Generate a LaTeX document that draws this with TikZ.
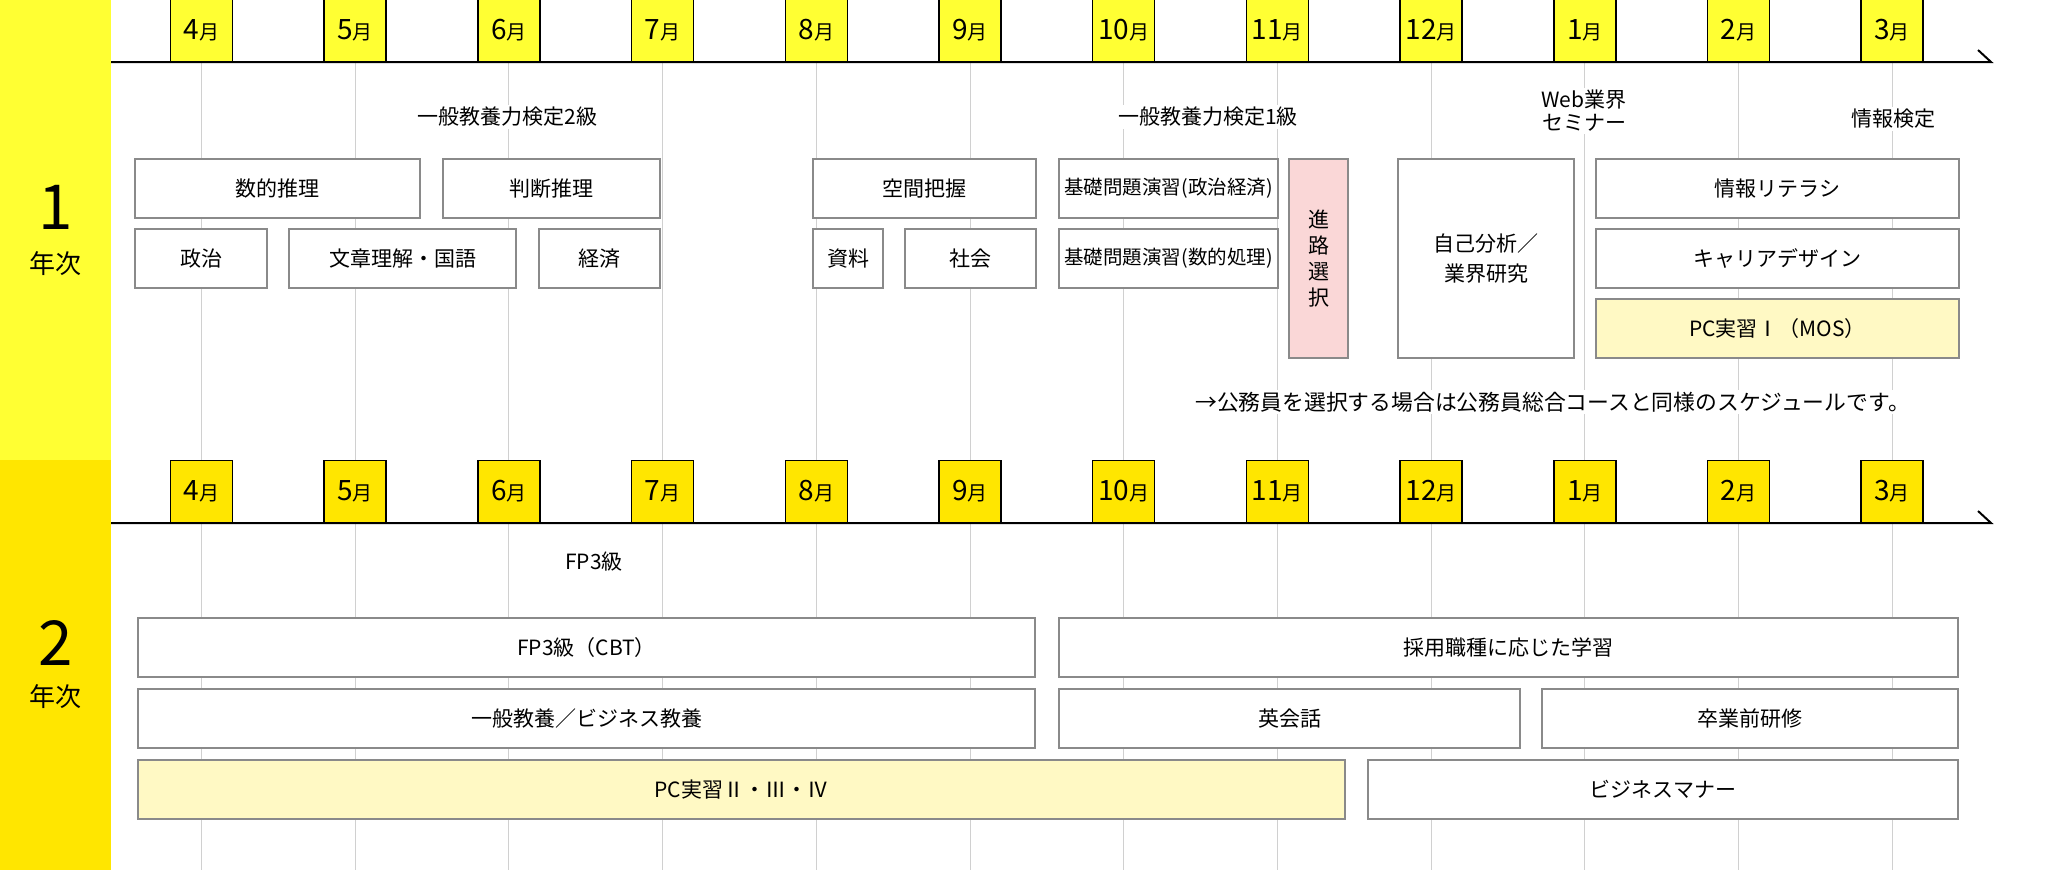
\documentclass[tikz,border=0pt]{standalone}
\usepackage{fontspec}
\setmainfont{Noto Sans CJK JP}
\usepackage{tikz}
\usetikzlibrary{positioning}
\definecolor{bandA}{RGB}{255,255,51}
\definecolor{bandB}{RGB}{255,230,0}
\definecolor{boxline}{RGB}{138,138,138}
\definecolor{pcfill}{RGB}{255,249,196}
\definecolor{pinkfill}{RGB}{250,215,215}
\definecolor{gridgray}{RGB}{208,208,208}
\tikzset{month/.style={draw=black, line width=1.5pt, minimum width=62pt,
                       minimum height=62pt, inner sep=0pt, anchor=south},
         course/.style={draw=boxline, line width=1.8pt, fill=white, inner sep=0pt,
                        align=center, font=\fontsize{21}{25}\selectfont},
         boxsize/.style 2 args={minimum width=#1pt, minimum height=#2pt},
         note/.style={fill=white, inner sep=2pt, align=center,
                      font=\fontsize{21}{25}\selectfont},
         gridline/.style={draw=gridgray, line width=1pt},
         axis/.style={draw=black, line width=2pt}}
\newcommand{\tsuki}[1]{{\fontsize{28}{28}\selectfont #1}{\fontsize{20}{20}\selectfont 月}}

\begin{document}
\begin{tikzpicture}[x=1pt, y=-1pt]
                \useasboundingbox (0,0) rectangle (2072,870);
                \coordinate (bottom) at (0,870);

                % year bands
                \fill[bandA] (0,0) rectangle (111,460);
                \fill[bandB] (0,460) rectangle (111,870);
                \node[font=\fontsize{62}{62}\selectfont] (yr1num) at (55.5,207) {1};
                \node[font=\fontsize{26}{26}\selectfont] (yr1txt) at (55.5,264) {年次};
                \node[font=\fontsize{62}{62}\selectfont] (yr2num) at (55.5,643) {2};
                \node[font=\fontsize{26}{26}\selectfont] (yr2txt) at (55.5,697) {年次};

                % months, first year
                \foreach \m [count=\i] in {4,5,6,7,8,9,10,11,12,1,2,3}
                    \node[month, fill=bandA] (ma\i) at ({201.5+153.7*(\i-1)},62) {\tsuki{\m}};
                \foreach \i in {1,...,12}
                    \draw[gridline] (ma\i.south) -- (ma\i.south |- bottom);

                \coordinate (axa1) at (111,62);
                \coordinate (axa2) at (1991,62);
                \coordinate (axa3) at (1978,50);
                \draw[axis] (axa1) -- (axa2) -- (axa3);

                % months, second year
                \foreach \m [count=\i] in {4,5,6,7,8,9,10,11,12,1,2,3}
                    \node[month, fill=bandB] (mb\i) at ({201.5+153.7*(\i-1)},523) {\tsuki{\m}};
                \coordinate (axb1) at (111,523);
                \coordinate (axb2) at (1991,523);
                \coordinate (axb3) at (1978,511);
                \draw[axis] (axb1) -- (axb2) -- (axb3);

                % first year
                \node[note] (kentei2) at (507.5,117) {一般教養力検定2級};
                \node[note] (kentei1) at (1208,117) {一般教養力検定1級};
                \node[note, font=\fontsize{21}{23}\selectfont] (webseminar) at (1584,111) {Web業界\\セミナー};
                \node[note] (johokentei) at (1893,119) {情報検定};

                \node[course, boxsize={285}{59}] (suteki) at (277.5,188.5) {数的推理};
                \node[course, boxsize={217}{59}] (handan) at (551.5,188.5) {判断推理};
                \node[course, boxsize={132}{59}] (seiji) at (201,258.5) {政治};
                \node[course, boxsize={227}{59}] (bunsho) at (402.5,258.5) {文章理解・国語};
                \node[course, boxsize={121}{59}] (keizai) at (599.5,258.5) {経済};
                \node[course, boxsize={223}{59}] (kukan) at (924.5,188.5) {空間把握};
                \node[course, boxsize={70}{59}] (shiryo) at (848,258.5) {資料};
                \node[course, boxsize={131}{59}] (shakai) at (970.5,258.5) {社会};
                \node[course, boxsize={219}{59}, font=\fontsize{19.5}{23}\selectfont]
                    (kisoA) at (1168.5,188.5) {基礎問題演習(政治経済)};
                \node[course, boxsize={219}{59}, font=\fontsize{19.5}{23}\selectfont]
                    (kisoB) at (1168.5,258.5) {基礎問題演習(数的処理)};
                \node[course, boxsize={59}{199}, fill=pinkfill, font=\fontsize{21}{26}\selectfont]
                    (shinro) at (1318.5,258.5) {進\\路\\選\\択};
                \node[course, boxsize={176}{199}, font=\fontsize{21}{30}\selectfont]
                    (jiko) at (1486,258.5) {自己分析／\\業界研究};
                \node[course, boxsize={363}{59}] (literacy) at (1777.5,188.5) {情報リテラシ};
                \node[course, boxsize={363}{59}] (career) at (1777.5,258.5) {キャリアデザイン};
                \node[course, boxsize={363}{59}, fill=pcfill] (pcA) at (1777.5,328.5) {PC実習Ⅰ（MOS）};

                \node[note, anchor=west, font=\fontsize{21.8}{25}\selectfont] (koumuin) at (1193,402)
                    {→公務員を選択する場合は公務員総合コースと同様のスケジュールです。};

                % second year
                \node[note] (fp3) at (594,562) {FP3級};

                \node[course, boxsize={897}{59}] (fpcbt) at (586.5,647.5) {FP3級（CBT）};
                \node[course, boxsize={897}{59}] (kyoyo) at (586.5,718.5) {一般教養／ビジネス教養};
                \node[course, boxsize={1207}{59}, fill=pcfill] (pcB) at (741.5,789.5) {PC実習Ⅱ・Ⅲ・Ⅳ};
                \node[course, boxsize={899}{59}] (saiyo) at (1508.5,647.5) {採用職種に応じた学習};
                \node[course, boxsize={461}{59}] (eikaiwa) at (1289.5,718.5) {英会話};
                \node[course, boxsize={416}{59}] (sotsugyo) at (1750,718.5) {卒業前研修};
                \node[course, boxsize={590}{59}] (manner) at (1663,789.5) {ビジネスマナー};

\end{tikzpicture}
\end{document}
